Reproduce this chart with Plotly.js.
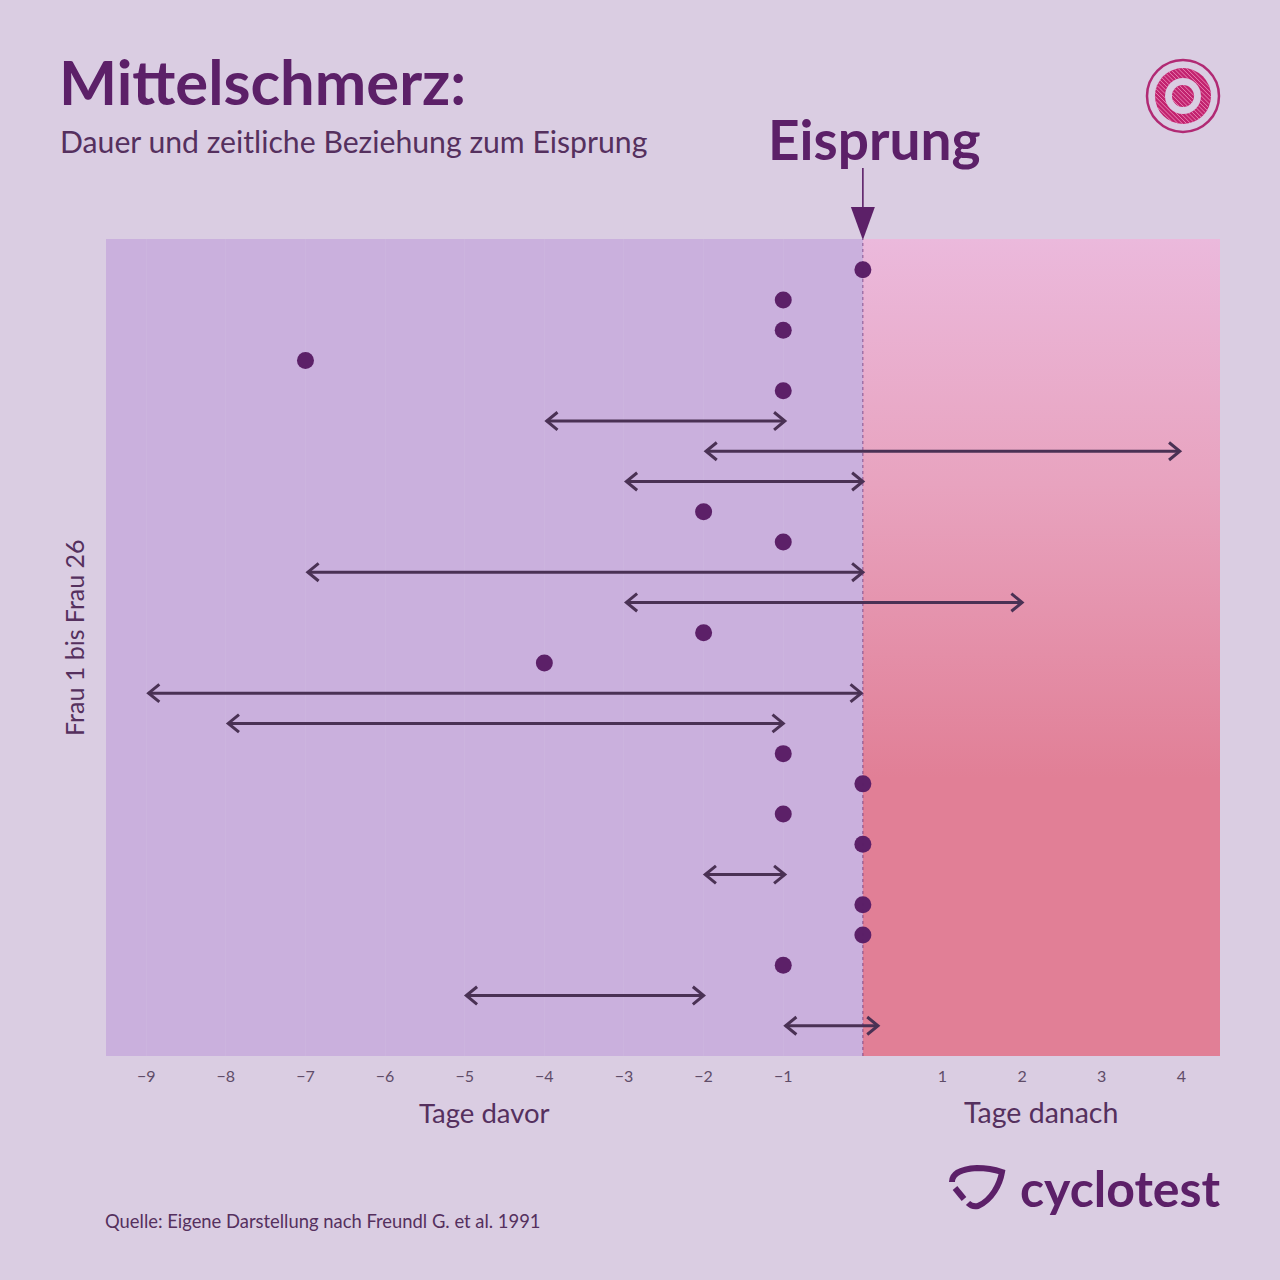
<!DOCTYPE html>
<html><head><meta charset="utf-8">
<script src="https://cdn.plot.ly/plotly-3.0.1.min.js"></script>
<style>html,body{margin:0;padding:0;background:#DACDE2}</style></head>
<body><div id="chart" style="width:1280px;height:1280px"></div>
<script>
// Single-day pain: woman number and day relative to ovulation
const dotWomen = [1,2,3,4,5,9,10,13,14,17,18,19,20,22,23,24];
const dotDays  = [0,-1,-1,-7,-1,-2,-1,-2,-4,-1,0,-1,0,0,0,-1];
// Pain lasting several days
const spanWomen = [6,7,8,11,12,15,16,21,25,26];
const spanStart = [-3.97,-1.97,-2.97,-6.97,-2.97,-8.97,-7.97,-1.98,-4.98,-0.97];
const spanEnd   = [-0.98,3.98,0,0,2.0,-0.02,-1.0,-0.98,-2.0,0.19];
const tickDays  = [-9,-8,-7,-6,-5,-4,-3,-2,-1,1,2,3,4];

const FONT = 'Lato, "Noto Sans", sans-serif';
const INK = '#5C2068', TEXT = '#55305E', ARROW = '#4A3154';
const W = 1280, L = 106, R = 1220, T = 239, B = 1056;
const xRange = [-9.505, 4.485], yRange = [27.0, -0.02];
const X = px => (px - L) / (R - L), Y = py => 1 - (py - T) / (B - T);

// chevron-headed double arrows, in data units
const hx = 0.135, hy = 0.29;
const ax = [], ay = [];
spanWomen.forEach((w, i) => {
  const a = spanStart[i], b = spanEnd[i];
  ax.push(a + hx, a, a + hx, null, a, b, null, b - hx, b, b - hx, null);
  ay.push(w - hy, w, w + hy, null, w, w, null, w - hy, w, w + hy, null);
});

// logo helpers
const cx = 1183, cy = 96;
const circle = (r, o) => Object.assign({type:'circle', xref:'paper', yref:'paper',
  x0:X(cx-r), x1:X(cx+r), y0:Y(cy+r), y1:Y(cy-r)}, o);
function hatch(r0, r1) {
  let p = '';
  const u = Math.SQRT1_2;
  for (let d = -r1; d <= r1; d += 3) {
    const seg = (a, b) => {
      const px = t => cx - d*u + t*u, py = t => cy + d*u + t*u;
      p += `M${X(px(a))},${Y(py(a))}L${X(px(b))},${Y(py(b))}`;
    };
    const o = Math.sqrt(Math.max(r1*r1 - d*d, 0));
    if (Math.abs(d) < r0) { const i = Math.sqrt(r0*r0 - d*d); seg(-o,-i); seg(i,o); }
    else seg(-o, o);
  }
  return p;
}
const P = (x, y) => `${X(x)},${Y(y)}`;
const logo1 = `M${P(952,1182)}C${P(952,1174)} ${P(960,1169)} ${P(977,1168)}C${P(988,1168)} ${P(996,1170)} ${P(1002,1172)}C${P(1000,1184)} ${P(992,1200)} ${P(978,1206)}C${P(974,1207)} ${P(971,1206)} ${P(968,1203)}`;
const logo2 = `M${P(955,1188)}L${P(964,1199)}`;

const traces = [
  { type:'scatter', mode:'lines', x:[0,xRange[1],xRange[1],0,0], y:[yRange[1],yRange[1],yRange[0],yRange[0],yRange[1]],
    fill:'toself', line:{width:0}, hoverinfo:'skip', showlegend:false,
    fillgradient:{type:'vertical', colorscale:[[0,'#E17F96'],[0.34,'#E17F96'],[0.7,'#E8A3BF'],[1,'#EBB9DC']]} },
  { type:'scatter', mode:'lines', x:ax, y:ay, line:{color:ARROW, width:3}, cliponaxis:false,
    hoverinfo:'skip', showlegend:false },
  { type:'scatter', mode:'markers', x:dotDays, y:dotWomen, marker:{color:INK, size:17},
    hoverinfo:'skip', showlegend:false }
];

const note = (text, px, py, anchor, size, color, extra) => Object.assign(
  {text, xref:'paper', yref:'paper', x:X(px), y:Y(py), xanchor:anchor, yanchor:'middle', showarrow:false,
   font:{size, color}}, extra || {});

const layout = {
  width:1280, height:1280, paper_bgcolor:'#DACDE2', plot_bgcolor:'#CAB0DD',
  margin:{l:L, r:W-R, t:T, b:W-B, pad:0}, showlegend:false,
  font:{family:FONT, color:TEXT},
  title:{text:'<b>Mittelschmerz:</b>', x:59/W, xanchor:'left', xref:'container', y:1-83/W, yanchor:'middle',
         font:{family:FONT, size:61.5, color:INK}},
  xaxis:{range:xRange, tickvals:tickDays, ticks:'outside', ticklen:6, tickcolor:'rgba(0,0,0,0)',
         tickfont:{size:16, color:'#5F4C68'}, showgrid:true, gridcolor:'rgba(255,255,255,0.05)', zeroline:false, showline:false},
  yaxis:{range:yRange, showticklabels:false, ticks:'', showgrid:false, zeroline:false, showline:false},
  annotations:[
    note('Dauer und zeitliche Beziehung zum Eisprung', 58, 141, 'left', 30.2, TEXT),
    note('<b>Eisprung</b>', 874, 139, 'center', 55, INK),
    note('Frau 1 bis Frau 26', 74, 638, 'center', 25, TEXT, {textangle:-90}),
    note('Tage davor', 484, 1112, 'center', 27.5, TEXT),
    note('Tage danach', 1041, 1112, 'center', 28.5, TEXT),
    note('Quelle: Eigene Darstellung nach Freundl G. et al. 1991', 103, 1221, 'left', 18.4, TEXT),
    note('<b>cyclotest</b>', 1223, 1188, 'right', 50, INK)
  ],
  shapes:[
    {type:'line', xref:'x', yref:'paper', x0:0, x1:0, y0:0, y1:1, line:{color:'rgba(92,32,104,0.65)', width:1, dash:'dot'}, layer:'above'},
    {type:'line', xref:'x', yref:'paper', x0:0, x1:0, y0:Y(168), y1:Y(215), line:{color:INK, width:1.6}},
    {type:'path', xref:'x', yref:'paper', xsizemode:'pixel', xanchor:0, path:`M-12,0L12,0L0,-33Z`, ysizemode:'pixel', yanchor:Y(207), fillcolor:INK, line:{width:0}},
    circle(36, {line:{color:'#B12A74', width:2.5}}),
    circle(28, {fillcolor:'#C2236F', line:{width:0}}),
    {type:'path', xref:'paper', yref:'paper', path:hatch(18,28), line:{color:'#E97FB2', width:1}},
    circle(18, {fillcolor:'#DACDE2', line:{width:0}}),
    circle(11, {fillcolor:'#C2236F', line:{width:0}}),
    {type:'path', xref:'paper', yref:'paper', path:hatch(0,11), line:{color:'#E97FB2', width:1}},
    {type:'path', xref:'paper', yref:'paper', path:logo1, line:{color:INK, width:6}},
    {type:'path', xref:'paper', yref:'paper', path:logo2, line:{color:INK, width:6}}
  ]
};
Plotly.newPlot('chart', traces, layout, {displayModeBar:false, staticPlot:true});
</script></body></html>
